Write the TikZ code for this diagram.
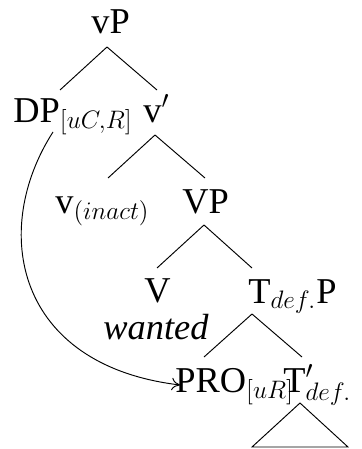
\documentclass[tikz,border=0pt]{standalone}
\usepackage[no-math]{fontspec}
\setmainfont{Liberation Serif}
\usetikzlibrary{arrows.meta}

\begin{document}
\begin{tikzpicture}[
    x = 0.475pt, y = -0.475pt,
    Branch/.style = {draw, line width = 0.45pt},
    Cat/.style = {anchor = base west, inner sep = 0pt, font = \LARGE},
    Move/.style = {draw, -{To[length = 4pt, width = 6pt]}, line width = 0.45pt}
  ]
  \useasboundingbox (0,0) rectangle (361,449);

  \node at (91,34) [Cat](vP){vP};
  \node at (13,122) [Cat](DP){DP$_{[uC,R]}$};
  \node at (143,122) [Cat](vbar){v$'$};
  \node at (55,213) [Cat](v){v$_{(inact)}$};
  \node at (182,213) [Cat](VP){VP};
  \node at (144,302) [Cat](V){V};
  \node at (103,339) [Cat](wanted){\itshape wanted};
  \node at (248,303) [Cat](TP){T$_{def.}$P};
  \node at (175,392) [Cat](PRO){PRO$_{[uR]}$};
  \node at (283,392) [Cat](Tbar){T$'_{def.}$};

  \path [Branch] ([shift={(16,13)}]vP.base west) -- ([shift={(47,-32)}]DP.base west);
  \path [Branch] ([shift={(16,13)}]vP.base west) -- ([shift={(14,-32)}]vbar.base west);
  \path [Branch] ([shift={(12,13)}]vbar.base west) -- ([shift={(53,-35)}]v.base west);
  \path [Branch] ([shift={(12,13)}]vbar.base west) -- ([shift={(23,-35)}]VP.base west);
  \path [Branch] ([shift={(22,12)}]VP.base west) -- ([shift={(13,-34)}]V.base west);
  \path [Branch] ([shift={(22,12)}]VP.base west) -- ([shift={(4,-35)}]TP.base west);
  \path [Branch] ([shift={(4,11)}]TP.base west) -- ([shift={(29,-35)}]PRO.base west);
  \path [Branch] ([shift={(4,11)}]TP.base west) -- ([shift={(19,-35)}]Tbar.base west);

  % triangle under T'
  \path [Branch] ([shift={(17,11)}]Tbar.base west) -- ++(-48,44) -- ++(96,0) -- cycle;

  \path [Move] ([shift={(40,10)}]DP.base west) .. controls (-10,230) and (15,365) .. ([shift={(5,-7)}]PRO.base west);
\end{tikzpicture}
\end{document}
